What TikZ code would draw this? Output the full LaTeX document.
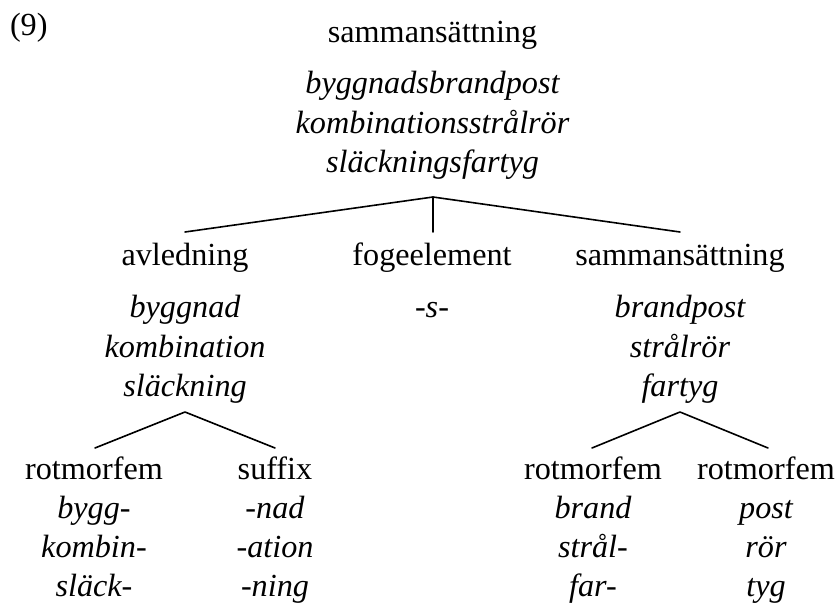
\documentclass[tikz,border=0pt]{standalone}
\usepackage{fontspec}
\setmainfont{Liberation Serif}
\begin{document}
\begin{tikzpicture}[x=1pt,y=-1pt,
  every node/.style={inner sep=0pt,outer sep=0pt,anchor=base},
  cat/.style={font=\fontsize{32.2}{39.5}\selectfont},
  form/.style={font=\fontsize{32.2}{39.5}\selectfont\itshape},
  branch/.style={line width=1.6pt,line cap=round,line join=round}]
\useasboundingbox (0,0) rectangle (839,606);

% example number
\node[cat,anchor=base west] (num) at (10,35) {(9)};

% root
\node[cat]  (root)   at (432.5,42)  {sammansättning};
\node[form] (rootA)  at (432.5,93)  {byggnadsbrandpost};
\node[form] (rootB)  at (432.5,133) {kombinationsstrålrör};
\node[form] (rootC)  at (432.5,172) {släckningsfartyg};

% second level
\node[cat]  (der)    at (185,265) {avledning};
\node[form] (derA)   at (185,317) {byggnad};
\node[form] (derB)   at (185,357) {kombination};
\node[form] (derC)   at (185,396) {släckning};

\node[cat]  (link)   at (432,265) {fogeelement};
\node[form] (linkA)  at (432,317) {-s-};

\node[cat]  (comp)   at (680,265) {sammansättning};
\node[form] (compA)  at (680,317) {brandpost};
\node[form] (compB)  at (680,357) {strålrör};
\node[form] (compC)  at (680,396) {fartyg};

% third level
\node[cat]  (rootL)  at (94,479)  {rotmorfem};
\node[form] (rootLA) at (94,518)  {bygg-};
\node[form] (rootLB) at (94,557)  {kombin-};
\node[form] (rootLC) at (94,596)  {släck-};

\node[cat]  (suf)    at (275,479) {suffix};
\node[form] (sufA)   at (275,518) {-nad};
\node[form] (sufB)   at (275,557) {-ation};
\node[form] (sufC)   at (275,596) {-ning};

\node[cat]  (rmA)    at (593,479) {rotmorfem};
\node[form] (rmAA)   at (593,518) {brand};
\node[form] (rmAB)   at (593,557) {strål-};
\node[form] (rmAC)   at (593,596) {far-};

\node[cat]  (rmB)    at (766,479) {rotmorfem};
\node[form] (rmBA)   at (766,518) {post};
\node[form] (rmBB)   at (766,557) {rör};
\node[form] (rmBC)   at (766,596) {tyg};

% branch points
\coordinate (rootTop) at (433,197);
\coordinate (derUp)   at (185,232);
\coordinate (linkUp)  at (433,232);
\coordinate (compUp)  at (680,232);

\coordinate (derTop)  at (185,412);
\coordinate (rootLUp) at (95,448);
\coordinate (sufUp)   at (275,448);

\coordinate (compTop) at (680,412);
\coordinate (rmAUp)   at (592,448);
\coordinate (rmBUp)   at (768,448);

% branches
\draw[branch] (derUp) -- (rootTop) -- (compUp);
\draw[branch] (rootTop) -- (linkUp);
\draw[branch] (rootLUp) -- (derTop) -- (sufUp);
\draw[branch] (rmAUp) -- (compTop) -- (rmBUp);
\end{tikzpicture}
\end{document}
